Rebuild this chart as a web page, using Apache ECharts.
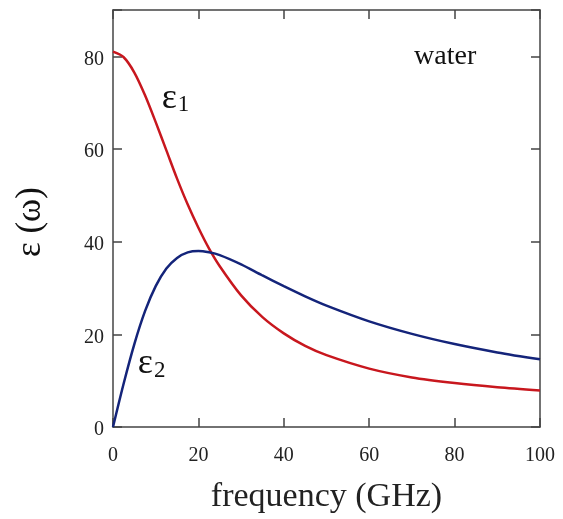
<!DOCTYPE html>
<html>
<head>
<meta charset="utf-8">
<script src="https://cdn.jsdelivr.net/npm/echarts@6/dist/echarts.min.js"></script>
<style>
  html, body { margin: 0; padding: 0; background: #fff; }
  #chart { width: 563px; height: 519px; }
</style>
</head>
<body>
<div id="chart"></div>
<script>
// Dielectric function of water versus frequency (GHz)
const frequency = [0, 2.5, 5, 7.5, 10, 12.5, 15, 17.5, 20, 22.5, 25, 30, 35, 40, 45, 50, 60, 70, 80, 90, 100];
const eps1 = [81.0, 79.8, 76.5, 71.6, 65.8, 59.7, 53.6, 48.0, 43.0, 38.5, 34.7, 28.4, 23.7, 20.2, 17.5, 15.5, 12.6, 10.7, 9.5, 8.6, 7.9];
const eps2 = [0.0, 9.4, 17.9, 25.0, 30.4, 34.2, 36.5, 37.7, 38.0, 37.7, 37.1, 35.1, 32.7, 30.4, 28.2, 26.2, 22.8, 20.1, 17.9, 16.1, 14.6];
const xTicks = [0, 20, 40, 60, 80, 100];
const yTicks = [0, 20, 40, 60, 80];
// In-plot annotations: [frequency, value, text]
const annotations = [
  [11.4, 70.9, 'ε1'],
  [5.8, 13.6, 'ε2'],
  [70.5, 80.0, 'water']
];

const serif = 'Liberation Serif';
const frameColor = '#444';
const ink = '#111';
const red = '#c8171e';
const blue = '#14247a';

const chart = echarts.init(document.getElementById('chart'), null, { renderer: 'canvas' });

function pairs(ys) { return frequency.map((f, i) => [f, ys[i]]); }

const tickStyle = { show: true, inside: true, length: 9, lineStyle: { color: frameColor, width: 1.5 } };
const lineStyle = { color: frameColor, width: 1.5 };

chart.setOption({
  animation: false,
  grid: { left: 113, right: 23, top: 10, bottom: 86, containLabel: false },
  xAxis: [
    {
      type: 'value', min: 0, max: 100, interval: 20, position: 'bottom',
      axisLine: { show: true, onZero: false, lineStyle },
      axisTick: tickStyle,
      splitLine: { show: false },
      axisLabel: {
        margin: 19, color: '#222', fontFamily: serif, fontSize: 20,
        formatter: v => xTicks.includes(v) ? String(v) : ''
      },
      name: 'frequency (GHz)', nameLocation: 'middle', nameGap: 53,
      nameTextStyle: { fontFamily: serif, fontSize: 34, color: '#222' }
    },
    {
      type: 'value', min: 0, max: 100, interval: 20, position: 'top',
      axisLine: { show: true, onZero: false, lineStyle },
      axisTick: tickStyle, axisLabel: { show: false }, splitLine: { show: false }
    }
  ],
  yAxis: [
    {
      type: 'value', min: 0, max: 90, interval: 20, position: 'left',
      axisLine: { show: true, onZero: false, lineStyle },
      axisTick: tickStyle,
      splitLine: { show: false },
      axisLabel: {
        margin: 9, color: '#222', fontFamily: serif, fontSize: 20,
        formatter: v => yTicks.includes(v) ? '{n|' + v + '}' : '',
        rich: { n: { fontFamily: serif, fontSize: 20, color: '#222', lineHeight: 20, padding: [6, 0, 0, 0] } }
      }
    },
    {
      type: 'value', min: 0, max: 90, interval: 20, position: 'right',
      axisLine: { show: true, onZero: false, lineStyle },
      axisTick: tickStyle, axisLabel: { show: false }, splitLine: { show: false }
    }
  ],
  graphic: [
    {
      type: 'text', x: 13, y: 257, rotation: Math.PI / 2,
      style: { text: 'ε (ω)', fontFamily: serif, fontSize: 35, fill: ink }
    }
  ],
  series: [
    {
      type: 'line', name: 'ε1', data: pairs(eps1), smooth: 0.3, showSymbol: false,
      lineStyle: { color: red, width: 2.5 }, z: 3
    },
    {
      type: 'line', name: 'ε2', data: pairs(eps2), smooth: 0.3, showSymbol: false,
      lineStyle: { color: blue, width: 2.5 }, z: 4
    },
    {
      type: 'scatter', symbolSize: 0, silent: true, z: 5,
      itemStyle: { opacity: 1 },
      data: annotations.map(a => ({ value: [a[0], a[1]], name: a[2] })),
      label: {
        show: true, position: 'right', distance: 0, color: ink, opacity: 1,
        textBorderWidth: 0,
        formatter: p => {
          const t = p.name;
          if (t === 'water') return '{w|water}';
          return '{e|ε}{s|' + t.slice(1) + '}';
        },
        rich: {
          w: { fontFamily: serif, fontSize: 28, color: ink, textBorderWidth: 0 },
          e: { fontFamily: serif, fontSize: 36, lineHeight: 36, verticalAlign: 'top', color: ink, textBorderWidth: 0 },
          s: { fontFamily: serif, fontSize: 23, lineHeight: 23, verticalAlign: 'bottom', padding: [20, 0, 0, 1], color: ink, textBorderWidth: 0 }
        }
      }
    }
  ]
});
</script>
</body>
</html>
